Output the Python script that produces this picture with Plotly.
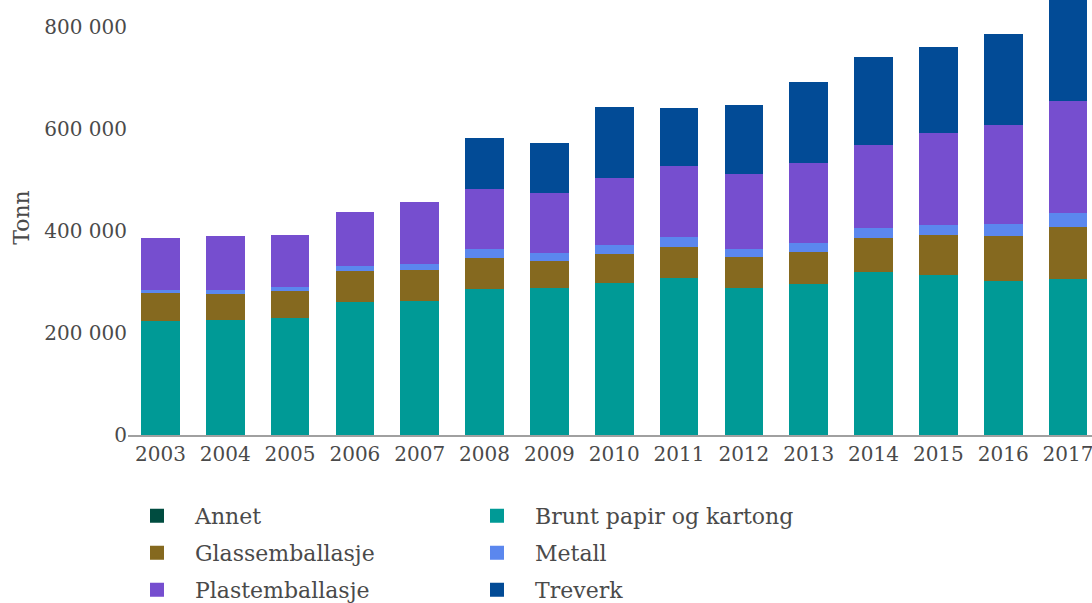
import plotly.graph_objects as go

years = ["2003", "2004", "2005", "2006", "2007", "2008", "2009", "2010",
         "2011", "2012", "2013", "2014", "2015", "2016", "2017"]

# None = no visible segment in the picture
annet = [None] * 15
brunt_papir = [225300, 227300, 231800, 263300, 264200, 287400, 289400, 300600,
               310400, 289400, 297600, 320800, 315700, 303900, 307900]
glassemballasje = [55300, 50700, 52500, 60300, 61900, 62300, 53800, 57000,
                   60300, 60900, 63900, 68200, 78600, 88400, 102700]
metall = [6600, 9200, 8400, 10400, 10900, 16300, 16300, 17100,
          20300, 16500, 16300, 18300, 19600, 22800, 26100]
plastemballasje = [96500, 101800, 98300, 101600, 117800, 118700, 117900, 130800,
                   137500, 146600, 157200, 163800, 180000, 193900, 220900]
treverk = [None, None, None, None, None, 94900, 93700, 136300,
           111400, 131600, 155200, 169000, 165100, 174900, 235000]

series = [
    ("Annet", annet, "#004c40", "legend"),
    ("Brunt papir og kartong", brunt_papir, "#009a96", "legend"),
    ("Glassemballasje", glassemballasje, "#85691f", "legend2"),
    ("Metall", metall, "#5b87ee", "legend2"),
    ("Plastemballasje", plastemballasje, "#764ecf", "legend3"),
    ("Treverk", treverk, "#024b96", "legend3"),
]

FONT = "DejaVu Serif"
TXT = "#4a4a4a"

fig = go.Figure()
for name, vals, color, lg in series:
    fig.add_trace(go.Bar(
        x=years, y=vals, name=name, legend=lg, showlegend=True,
        marker=dict(color=color, line=dict(width=2, color=color)),
        hovertemplate="%{x}: %{y}<extra>" + name + "</extra>",
    ))

legend_common = dict(
    orientation="h", xref="container", yref="container",
    x=119 / 1092, xanchor="left", yanchor="middle", traceorder="normal",
    itemwidth=66, entrywidth=259, entrywidthmode="pixels",
    font=dict(family=FONT, size=22, color=TXT),
    bgcolor="rgba(0,0,0,0)", borderwidth=0, itemclick=False,
)

fig.update_layout(
    width=1092, height=603,
    barmode="stack", bargap=0.434,
    paper_bgcolor="white", plot_bgcolor="white",
    margin=dict(l=128, r=0, t=0, b=168),
    font=dict(family=FONT, size=20, color=TXT),
    separators=", ",
    showlegend=True,
    legend=dict(legend_common, y=1 - 516 / 603),
    legend2=dict(legend_common, y=1 - 553 / 603),
    legend3=dict(legend_common, y=1 - 590 / 603),
    xaxis=dict(
        type="category", range=[-0.5, 14.37],
        showgrid=False, showline=True, linecolor="#a0a0a0", linewidth=2,
        ticks="", tickfont=dict(family=FONT, size=20, color=TXT),
        fixedrange=True,
    ),
    yaxis=dict(
        range=[0, 853000], showgrid=False, zeroline=False, showline=False,
        tickvals=[0, 200000, 400000, 600000, 800000], tickformat=",d",
        ticks="", tickfont=dict(family=FONT, size=20, color=TXT),
        title=dict(text="Tonn", standoff=8,
                   font=dict(family=FONT, size=22, color=TXT)),
        fixedrange=True,
    ),
)

fig.write_html("out.html")
